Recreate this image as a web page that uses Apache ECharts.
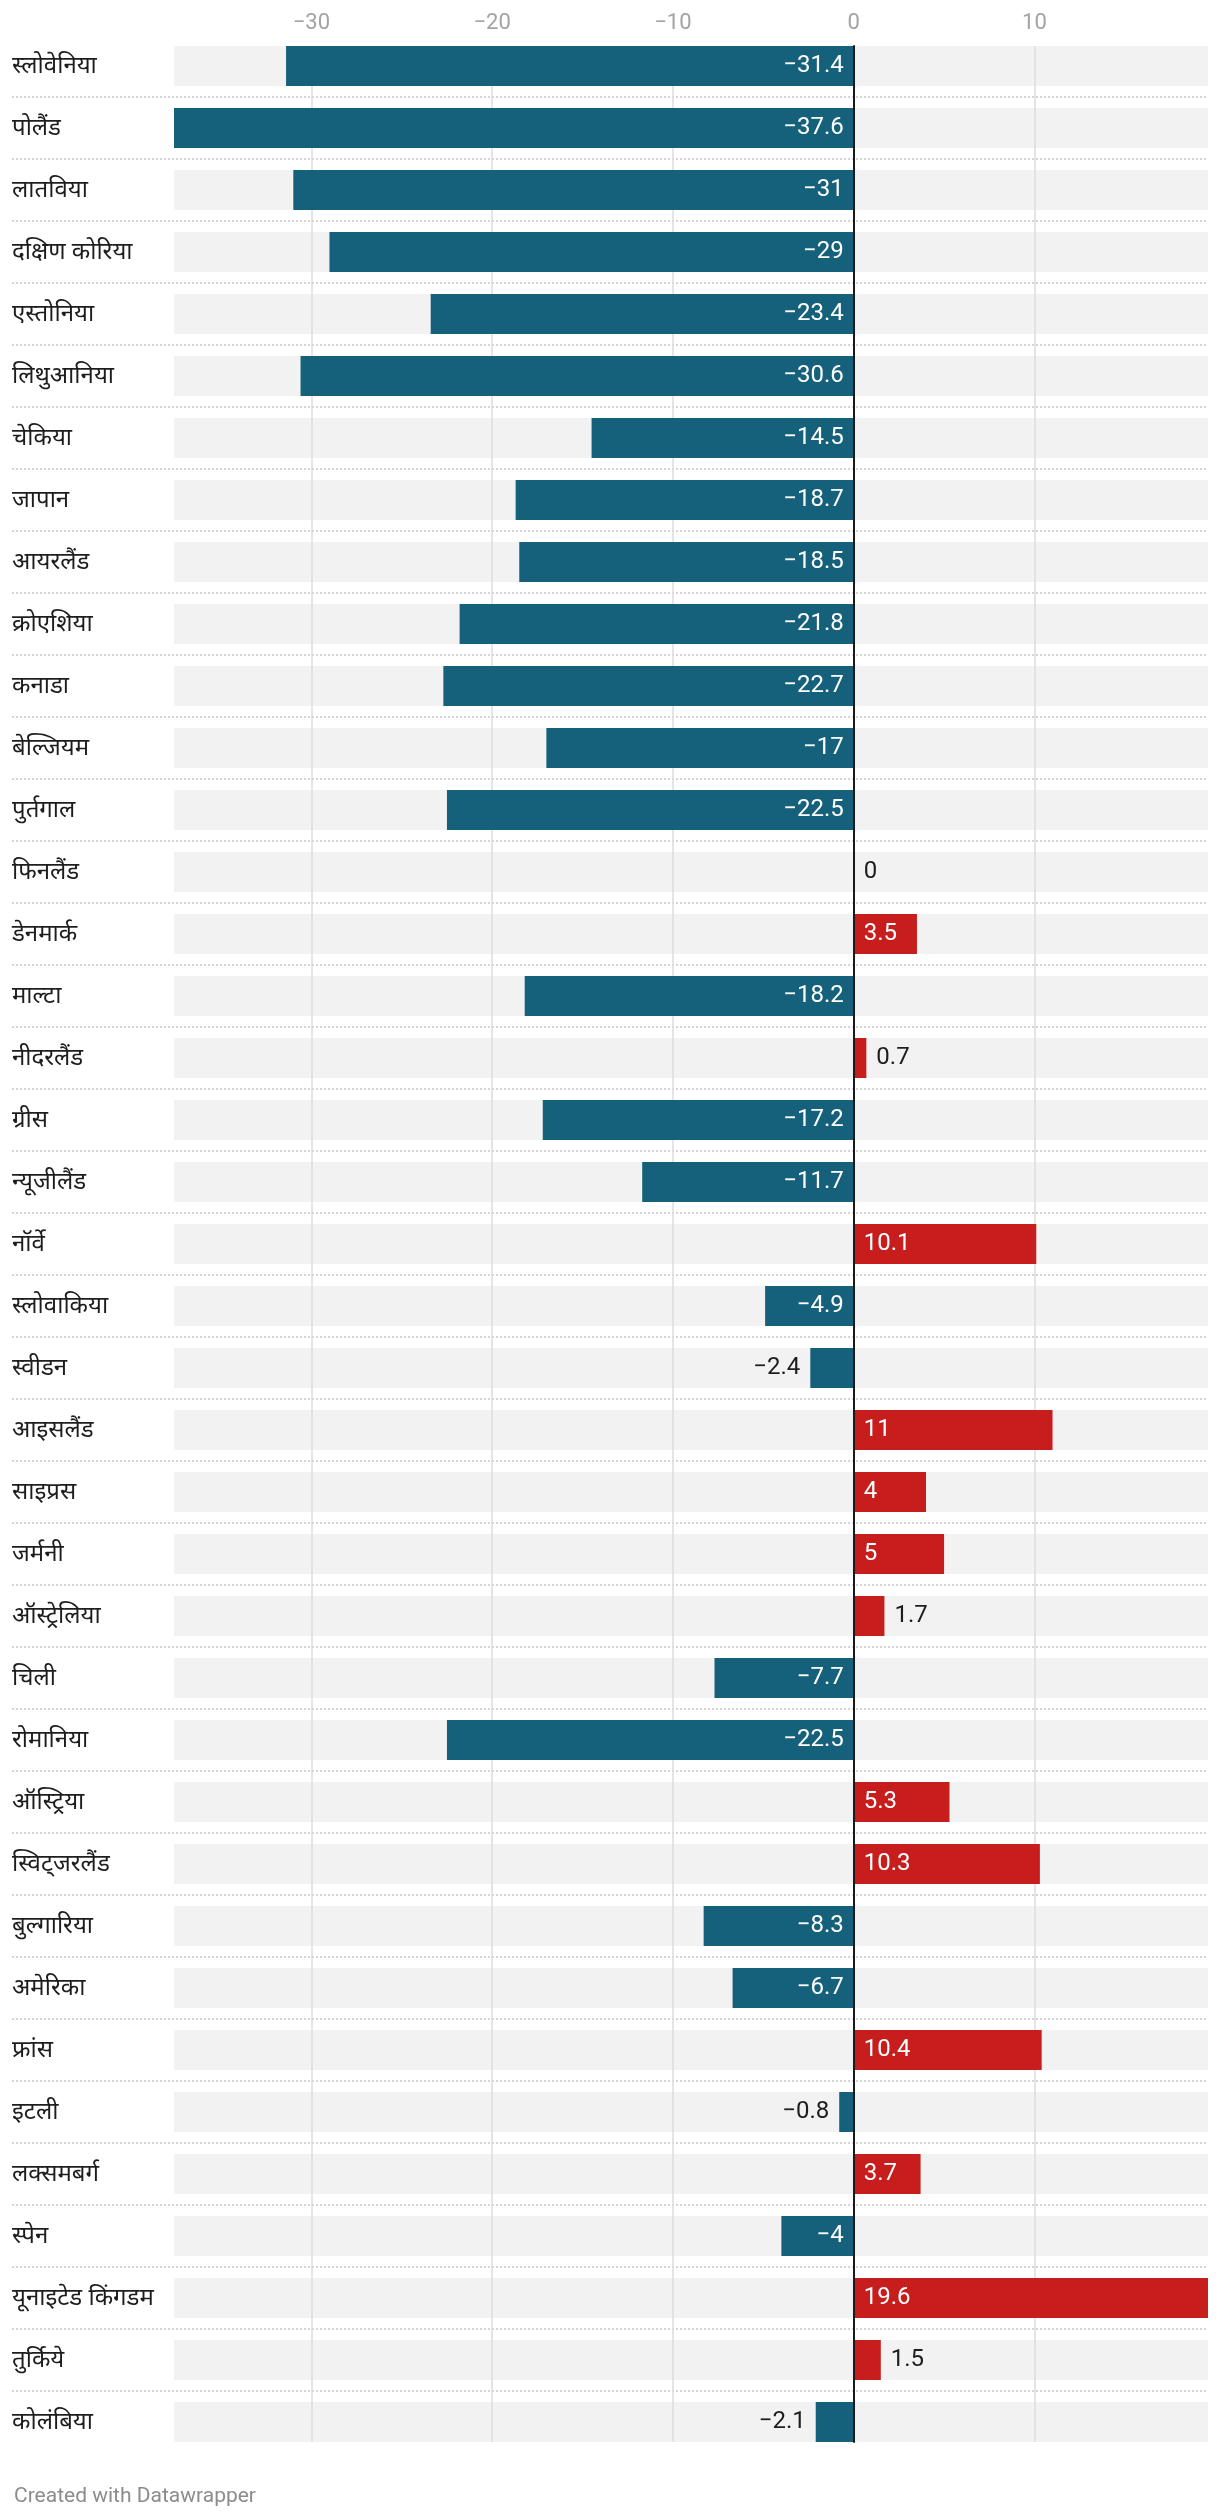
<!DOCTYPE html>
<html>
<head>
<meta charset="utf-8">
<script src="https://cdn.jsdelivr.net/npm/echarts@6/dist/echarts.min.js"></script>
<style>
  html, body { margin: 0; padding: 0; background: #fff; }
  #chart { width: 1220px; height: 2518px; }
</style>
</head>
<body>
<div id="chart"></div>
<script>
// ---- data ----
const categories = [
  'स्लोवेनिया', 'पोलैंड', 'लातविया', 'दक्षिण कोरिया', 'एस्तोनिया', 'लिथुआनिया',
  'चेकिया', 'जापान', 'आयरलैंड', 'क्रोएशिया', 'कनाडा', 'बेल्जियम', 'पुर्तगाल',
  'फिनलैंड', 'डेनमार्क', 'माल्टा', 'नीदरलैंड', 'ग्रीस', 'न्यूजीलैंड', 'नॉर्वे',
  'स्लोवाकिया', 'स्वीडन', 'आइसलैंड', 'साइप्रस', 'जर्मनी', 'ऑस्ट्रेलिया', 'चिली',
  'रोमानिया', 'ऑस्ट्रिया', 'स्विट्जरलैंड', 'बुल्गारिया', 'अमेरिका', 'फ्रांस',
  'इटली', 'लक्समबर्ग', 'स्पेन', 'यूनाइटेड किंगडम', 'तुर्किये', 'कोलंबिया'
];
const values = [
  -31.4, -37.6, -31, -29, -23.4, -30.6,
  -14.5, -18.7, -18.5, -21.8, -22.7, -17, -22.5,
  0, 3.5, -18.2, 0.7, -17.2, -11.7, 10.1,
  -4.9, -2.4, 11, 4, 5, 1.7, -7.7,
  -22.5, 5.3, 10.3, -8.3, -6.7, 10.4,
  -0.8, 3.7, -4, 19.6, 1.5, -2.1
];
const footerText = 'Created with Datawrapper';

// ---- layout / style ----
const W = 1220;
const GRID_LEFT = 174, GRID_RIGHT = 12;
const BAND_TOP = 35, BAND = 62, BAR_H = 40;
const BLUE = '#15607a', RED = '#c71e1d';
const VAL_FONT = 24, FONT = 'Roboto, sans-serif';
const LABEL_DIST = 10;

const vMin = Math.min(...values);
const vMax = Math.max(...values);
const n = categories.length;
const pxPerUnit = (W - GRID_LEFT - GRID_RIGHT) / (vMax - vMin);

const fmt = v => String(v).replace('-', '\u2212');

const ctx = document.createElement('canvas').getContext('2d');
ctx.font = VAL_FONT + 'px Roboto';

const barData = values.map(v => {
  const txt = fmt(v);
  const tw = ctx.measureText(txt).width;
  const len = Math.abs(v) * pxPerUnit;
  const inside = v !== 0 && len >= tw + 2 * LABEL_DIST;
  let position;
  if (inside) position = v < 0 ? 'insideRight' : 'insideLeft';
  else position = v < 0 ? 'left' : 'right';
  return {
    value: v,
    itemStyle: { color: v < 0 ? BLUE : RED },
    label: {
      position: position,
      color: inside ? '#ffffff' : '#1d1d1d'
    }
  };
});

const chart = echarts.init(document.getElementById('chart'), null, { renderer: 'canvas' });

chart.setOption({
  animation: false,
  title: {
    text: footerText,
    left: 9,
    top: 2481,
    textStyle: { fontFamily: FONT, fontSize: 21, fontWeight: 'normal', color: '#8c8c8c' }
  },
  grid: [
    { left: GRID_LEFT, right: GRID_RIGHT, top: BAND_TOP, height: n * BAND },
    { left: GRID_LEFT, right: GRID_RIGHT, top: BAND_TOP + (BAND - BAR_H) / 2, height: n * BAND - (BAND - BAR_H) },
    { left: 12, right: GRID_RIGHT, top: BAND_TOP, height: n * BAND }
  ],
  xAxis: [
    { gridIndex: 0, type: 'value', min: vMin, max: vMax, show: false },
    {
      gridIndex: 1, type: 'value', min: vMin, max: vMax, position: 'top',
      splitNumber: 5, minInterval: 10, maxInterval: 10, z: 2,
      axisLine: { show: false }, axisTick: { show: false },
      axisLabel: {
        color: '#a3a3a3', fontSize: 22, fontFamily: FONT, margin: 12,
        showMinLabel: false, showMaxLabel: false,
        formatter: v => fmt(v)
      },
      splitLine: {
        show: true, showMinLine: false, showMaxLine: false,
        lineStyle: { color: '#dcdcdc', width: 1.5 }
      }
    },
    { gridIndex: 2, type: 'value', min: 0, max: 1, show: false }
  ],
  yAxis: [
    {
      gridIndex: 0, type: 'category', data: categories, inverse: true,
      axisLine: { show: false }, axisTick: { show: false }, axisLabel: { show: false },
      splitLine: { show: false }
    },
    {
      gridIndex: 1, type: 'value', min: 0, max: 1, z: 4,
      axisLine: { show: true, onZero: true, lineStyle: { color: '#1a1a1a', width: 2 } },
      axisTick: { show: false }, axisLabel: { show: false }, splitLine: { show: false }
    },
    {
      gridIndex: 2, type: 'category', data: categories, inverse: true,
      axisLine: { show: false }, axisTick: { show: false },
      axisLabel: {
        inside: true, margin: 0, align: 'left',
        color: '#1d1d1d', fontSize: 24, fontFamily: "'Noto Sans', Roboto, sans-serif"
      },
      splitLine: {
        show: true, showMinLine: false, showMaxLine: false,
        lineStyle: { color: '#c8c8c8', width: 1.5, type: [2, 2] }
      }
    }
  ],
  series: [
    {
      name: 'bg', type: 'bar', xAxisIndex: 0, yAxisIndex: 0,
      data: values, barWidth: BAR_H, barGap: '-100%', z: 1, silent: true,
      itemStyle: { color: 'rgba(0,0,0,0)' },
      showBackground: true, backgroundStyle: { color: '#f2f2f2' }
    },
    {
      name: 'value', type: 'bar', xAxisIndex: 0, yAxisIndex: 0,
      data: barData, barWidth: BAR_H, barGap: '-100%', z: 3,
      label: {
        show: true, distance: LABEL_DIST, fontSize: VAL_FONT, fontFamily: FONT,
        formatter: p => fmt(p.value)
      }
    }
  ]
});
</script>
</body>
</html>
